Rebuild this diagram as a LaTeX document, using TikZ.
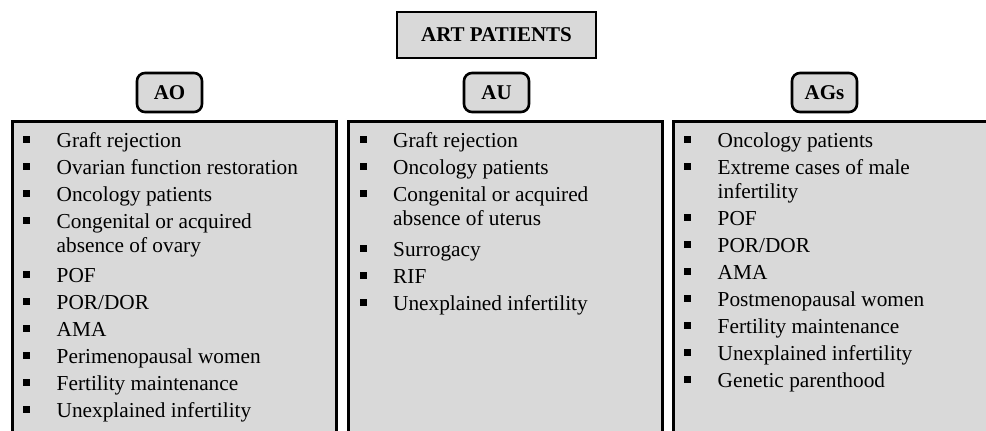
\documentclass[tikz,border=0pt]{standalone}
\usepackage{fontspec}
\setmainfont{Liberation Serif}
\definecolor{boxgray}{RGB}{217,217,217}
\newcommand\bitem[1]{\noindent\makebox[33.5pt][l]{\rule[4.5pt]{7pt}{7pt}}#1\par}
\newcommand\bcont[1]{\vspace{-3pt}\noindent\hspace*{33.5pt}#1\par}
\tikzset{
  headbox/.style={draw=black, line width=2.6pt, fill=boxgray, minimum width=199pt, minimum height=46pt, inner sep=0pt, font=\fontsize{21}{24}\selectfont\bfseries},
  catbox/.style={draw=black, line width=2.6pt, fill=boxgray, rounded corners=8pt, minimum width=65pt, minimum height=39pt, inner sep=0pt, font=\fontsize{21}{24}\selectfont\bfseries},
  listbox/.style={draw=black, line width=2.6pt, fill=boxgray, inner sep=0pt, anchor=north west},
  listtext/.style={inner sep=0pt, anchor=base west, align=left}
}
\begin{document}
\begin{tikzpicture}[x=1pt,y=-1pt]
\useasboundingbox (0,0) rectangle (986,431);
\clip (0,0) rectangle (986,431);
\fill[white] (0,0) rectangle (986,431);
\node[headbox] (art) at (496.5,35) {ART PATIENTS};
\node[catbox] (ao) at (169.5,92.5) {AO};
\node[catbox] (au) at (496.5,92.5) {AU};
\node[catbox] (ags) at (824.5,92.5) {AGs};
\node[listbox, minimum width=324pt, minimum height=360pt] (aobox) at (11,120) {};
\node[listbox, minimum width=314pt, minimum height=360pt] (aubox) at (347,120) {};
\node[listbox, minimum width=360pt, minimum height=360pt] (agsbox) at (672,120) {};
\node[listtext] (aolist) at (23,147) {\parbox[t]{320pt}{\fontsize{21.3}{27}\selectfont
\bitem{Graft rejection}
\bitem{Ovarian function restoration}
\bitem{Oncology patients}
\bitem{Congenital or acquired}
\bcont{absence of ovary}
\vspace{3pt}
\bitem{POF}
\bitem{POR/DOR}
\bitem{AMA}
\bitem{Perimenopausal women}
\bitem{Fertility maintenance}
\bitem{Unexplained infertility}}};
\node[listtext] (aulist) at (359.5,147) {\parbox[t]{300pt}{\fontsize{21.3}{27}\selectfont
\bitem{Graft rejection}
\bitem{Oncology patients}
\bitem{Congenital or acquired}
\bcont{absence of uterus}
\vspace{4pt}
\bitem{Surrogacy}
\bitem{RIF}
\bitem{Unexplained infertility}}};
\node[listtext] (agslist) at (684,147) {\parbox[t]{300pt}{\fontsize{21.3}{27}\selectfont
\bitem{Oncology patients}
\bitem{Extreme cases of male}
\bcont{infertility}
\bitem{POF}
\bitem{POR/DOR}
\bitem{AMA}
\bitem{Postmenopausal women}
\bitem{Fertility maintenance}
\bitem{Unexplained infertility}
\bitem{Genetic parenthood}}};
\end{tikzpicture}
\end{document}
